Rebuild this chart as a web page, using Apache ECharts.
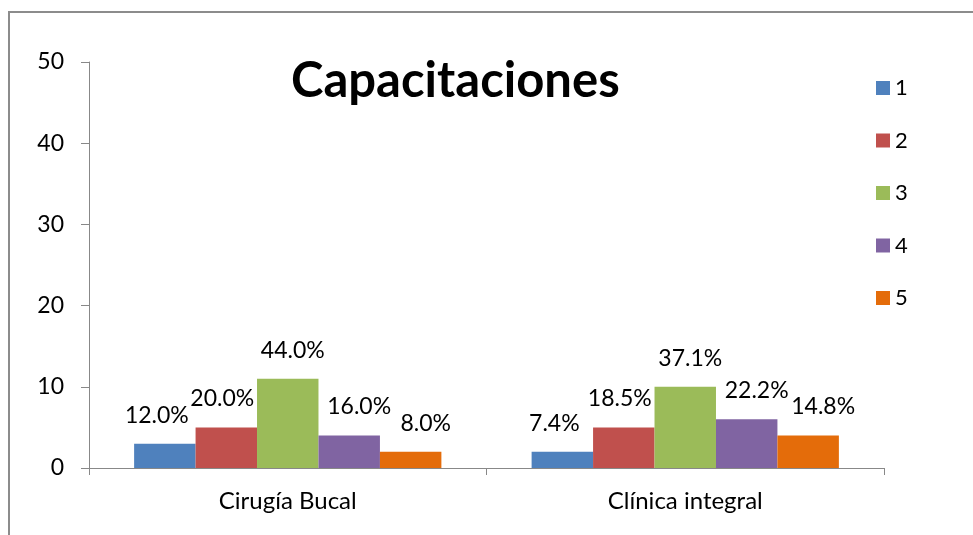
<!DOCTYPE html>
<html>
<head>
<meta charset="utf-8">
<script src="https://cdn.jsdelivr.net/npm/echarts@6/dist/echarts.min.js"></script>
<style>
  html, body { margin: 0; padding: 0; background: #fff; }
  #chart { width: 973px; height: 535px; }
</style>
</head>
<body>
<div id="chart"></div>
<script>
// datos
var categories = ["Cirugía Bucal", "Clínica integral"];
var seriesNames = ["1", "2", "3", "4", "5"];
var values = [
  [3, 2],
  [5, 5],
  [11, 10],
  [4, 6],
  [2, 4]
];
var percentLabels = [
  ["12.0%", "7.4%"],
  ["20.0%", "18.5%"],
  ["44.0%", "37.1%"],
  ["16.0%", "22.2%"],
  ["8.0%", "14.8%"]
];
var colors = ["#4f81bd", "#c0504d", "#9bbb59", "#8064a2", "#e46c0a"];
// desplazamiento horizontal de etiquetas (como en Excel)
var labelShift = [-8, -4, 5, 10, 15];

var chart = echarts.init(document.getElementById("chart"));
var font = "Lato, 'Open Sans', sans-serif";

var series = seriesNames.map(function (name, i) {
  return {
    name: name,
    type: "bar",
    data: values[i],
    barGap: "0%",
    barCategoryGap: "22.7%",
    itemStyle: { color: colors[i] },
    label: {
      show: true,
      position: "top",
      distance: 17,
      offset: [labelShift[i], 0],
      color: "#000",
      fontFamily: font,
      fontSize: 23,
      formatter: function (p) {
        return percentLabels[i][p.dataIndex];
      }
    }
  };
});

var option = {
  animation: false,
  title: {
    text: "Capacitaciones",
    left: 286,
    top: 52,
    textStyle: {
      fontFamily: font,
      fontWeight: "bold",
      fontSize: 49,
      color: "#000"
    }
  },
  legend: {
    orient: "vertical",
    left: 871,
    top: 72,
    itemWidth: 14,
    itemHeight: 14,
    itemGap: 30.5,
    icon: "rect",
    textStyle: { fontFamily: font, fontSize: 22, color: "#000" }
  },
  graphic: [{
    type: "rect",
    shape: { x: 9, y: 12, width: 1000, height: 600 },
    style: { fill: "none", stroke: "#8c8c8c", lineWidth: 2 }
  }],
  grid: { left: 89, right: 89, top: 62, bottom: 67 },
  xAxis: {
    type: "category",
    data: categories,
    axisLine: { lineStyle: { color: "#888", width: 1 } },
    axisTick: { show: true, length: 7, lineStyle: { color: "#888" } },
    axisLabel: { fontFamily: font, fontSize: 24, color: "#000", margin: 21 }
  },
  yAxis: {
    type: "value",
    min: 0,
    max: 50,
    interval: 10,
    axisLine: { show: true, lineStyle: { color: "#888", width: 1 } },
    axisTick: { show: true, length: 8, lineStyle: { color: "#888" } },
    splitLine: { show: false },
    axisLabel: { fontFamily: font, fontSize: 23, color: "#000", margin: 25 }
  },
  series: series
};

chart.setOption(option);
</script>
</body>
</html>
